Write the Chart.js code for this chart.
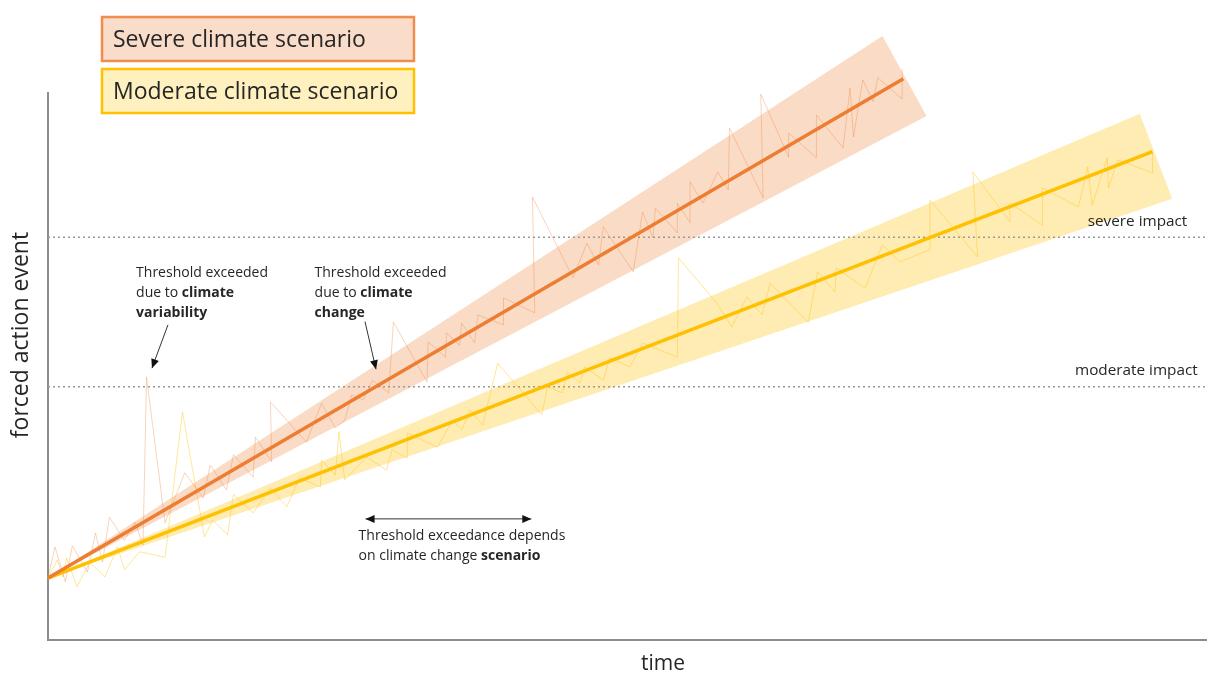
<!DOCTYPE html>
<html>
<head>
<meta charset="utf-8">
<title>Forced action event over time</title>
<script src="https://cdn.jsdelivr.net/npm/chart.js@4.4.1/dist/chart.umd.min.js"></script>
<style>
    html, body { margin: 0; padding: 0; background: #fff; }
    #wrap { width: 1207px; height: 675px; position: relative; }
</style>
</head>
<body>
<div id="wrap"><canvas id="chart"></canvas></div>
<script>
// ================= DATA =================
// time runs 0..100, forced action event 0..100 (arbitrary units)
const severeTrendX = [0, 73.8];
const severeTrendY = [11.3, 102.4];
const moderateTrendX = [0, 95.3];
const moderateTrendY = [11.3, 89.1];

// uncertainty cones (closed outlines)
const severeBandX = [0, 72.0, 75.8, 0];
const severeBandY = [11.3, 110.2, 95.6, 11.3];
const moderateBandX = [0, 94.2, 97.0, 0];
const moderateBandY = [11.3, 96.0, 80.5, 11.3];

// year to year variability
const severeNoiseX = [0, 0.6, 1.5, 2.1, 3.4, 4.1, 4.7, 5.3, 6.6, 7.5, 8.2, 8.5, 10.1, 11.8, 13.4, 14.0, 15.4, 16.0, 17.7, 17.9,
    19.3, 19.2, 22.3, 23.6, 24.8, 25.6, 26.2, 27.2, 28.0, 29.4, 29.8, 32.7, 32.8, 34.3, 34.4, 35.5, 35.7, 36.8, 37.1, 39.3,
    39.3, 42.0, 41.8, 45.3, 46.5, 47.5, 47.9, 50.5, 51.3, 52.2, 52.4, 54.3, 54.3, 55.4, 55.4, 56.5, 57.8, 58.7, 58.8, 61.7,
    61.5, 63.9, 63.9, 66.3, 66.3, 68.6, 69.2, 69.5, 70.3, 71.2, 71.6, 73.7, 73.7];
const severeNoiseY = [11.3, 17.0, 10.6, 17.2, 12.4, 19.5, 14.2, 22.4, 18.2, 21.5, 17.3, 48.0, 21.4, 30.5, 25.9, 31.9, 27.4, 33.8, 29.7, 37.0,
    32.5, 43.4, 36.1, 43.2, 38.7, 40.1, 44.7, 43.8, 47.4, 45.1, 58.0, 47.1, 54.4, 51.6, 56.0, 53.8, 57.8, 54.2, 59.3, 57.5,
    62.4, 59.7, 80.8, 66.1, 72.4, 68.4, 75.4, 67.2, 78.1, 73.4, 78.8, 74.3, 79.7, 76.1, 83.6, 79.7, 85.4, 82.1, 93.4, 80.7,
    99.6, 88.1, 92.5, 88.0, 95.8, 89.8, 100.7, 91.8, 102.2, 98.2, 102.6, 98.7, 104.2];
const moderateNoiseX = [0, 0.8, 1.3, 1.6, 2.5, 3.6, 4.9, 6.0, 6.6, 7.9, 10.1, 11.6, 13.5, 14.2, 15.5, 16.0, 17.7, 19.2, 20.6, 21.7,
    23.5, 23.6, 24.8, 25.1, 25.6, 27.5, 29.2, 29.7, 31.0, 31.0, 33.6, 34.9, 35.7, 36.4, 37.5, 38.8, 42.6, 43.1, 44.4, 44.8,
    45.9, 46.3, 47.9, 48.5, 50.2, 51.3, 54.3, 54.4, 57.7, 59.0, 60.3, 61.6, 62.3, 65.6, 66.4, 67.9, 68.0, 70.5, 72.0, 73.5,
    76.1, 76.1, 80.2, 79.8, 83.0, 83.0, 85.8, 85.8, 88.9, 89.7, 90.1, 91.4, 91.5, 92.3, 95.3, 95.3];
const moderateNoiseY = [11.3, 14.6, 11.5, 15.0, 9.7, 14.2, 11.5, 17.0, 12.8, 16.1, 15.1, 41.6, 18.8, 21.9, 19.2, 26.6, 23.2, 27.7, 24.3, 29.6,
    27.9, 32.8, 30.1, 38.0, 29.2, 33.4, 31.0, 34.7, 33.2, 37.8, 35.2, 40.1, 38.3, 42.0, 39.2, 50.5, 41.1, 46.2, 45.1, 48.9,
    46.9, 49.8, 47.4, 51.5, 49.8, 54.2, 51.6, 69.7, 61.5, 57.1, 62.6, 59.3, 65.1, 58.0, 67.2, 63.5, 67.9, 64.2, 72.1, 69.0,
    71.2, 80.3, 69.9, 85.4, 76.3, 79.7, 75.7, 82.5, 79.0, 86.3, 79.4, 88.0, 82.5, 87.6, 85.2, 88.9];

// impact thresholds
const thresholdNames = ["severe impact", "moderate impact"];
const thresholdValues = [73.5, 46.2];
const thresholdLabelX = [98.3, 99.2];

const legendLabels = ["Severe climate scenario", "Moderate climate scenario"];

// ================= HELPERS =================
function pts(xs, ys) {
    return xs.map((x, i) => ({ x: x, y: ys[i] }));
}

const ORANGE = "#ED7D31";
const YELLOW = "#FFC000";
const AXIS = "#8c8c8c";
const FONT = "'Open Sans', 'Noto Sans', sans-serif";
const TEXT = "#262626";

// notes: anchor in data units, each line is a list of [text, bold]
const notes = [
    { x: 7.6, y: 67.0, lines: [[["Threshold exceeded", false]], [["due to ", false], ["climate", true]], [["variability", true]]] },
    { x: 23.0, y: 67.0, lines: [[["Threshold exceeded", false]], [["due to ", false], ["climate", true]], [["change", true]]] },
    { x: 26.8, y: 18.9, lines: [[["Threshold exceedance depends", false]], [["on climate change ", false], ["scenario", true]]] }
];
const arrows = [
    { from: [10.35, 57.5], to: [8.97, 49.6], both: false },
    { from: [27.35, 58.1], to: [28.30, 49.4], both: false },
    { from: [27.4, 22.1], to: [41.7, 22.1], both: true }
];

function arrowHead(ctx, x0, y0, x1, y1) {
    const a = Math.atan2(y1 - y0, x1 - x0);
    const len = 9, half = 4;
    ctx.beginPath();
    ctx.moveTo(x1, y1);
    ctx.lineTo(x1 - len * Math.cos(a) + half * Math.sin(a), y1 - len * Math.sin(a) - half * Math.cos(a));
    ctx.lineTo(x1 - len * Math.cos(a) - half * Math.sin(a), y1 - len * Math.sin(a) + half * Math.cos(a));
    ctx.closePath();
    ctx.fill();
}

// ================= OVERLAY PLUGIN =================
const overlay = {
    id: "overlay",
    beforeDatasetsDraw(chart) {
        // y axis line only runs up to the top of the value range
        const ctx = chart.ctx;
        const ys = chart.scales.y;
        const x = chart.chartArea.left;
        ctx.save();
        ctx.strokeStyle = AXIS;
        ctx.lineWidth = 2;
        ctx.beginPath();
        ctx.moveTo(x, ys.getPixelForValue(0));
        ctx.lineTo(x, ys.getPixelForValue(100));
        ctx.stroke();
        ctx.restore();
    },
    afterDraw(chart) {
        const ctx = chart.ctx;
        const xs = chart.scales.x, ys = chart.scales.y;
        ctx.save();

        // threshold labels
        ctx.fillStyle = TEXT;
        ctx.font = "15.3px " + FONT;
        ctx.textAlign = "right";
        ctx.textBaseline = "middle";
        thresholdNames.forEach((name, i) => {
            ctx.fillText(name, xs.getPixelForValue(thresholdLabelX[i]), ys.getPixelForValue(thresholdValues[i]) - 16);
        });

        // notes
        ctx.textAlign = "left";
        notes.forEach(n => {
            let px = xs.getPixelForValue(n.x);
            let py = ys.getPixelForValue(n.y);
            n.lines.forEach((line, li) => {
                let cx = px;
                line.forEach(seg => {
                    ctx.font = (seg[1] ? "bold " : "") + "14px " + FONT;
                    ctx.fillText(seg[0], cx, py + li * 20);
                    cx += ctx.measureText(seg[0]).width;
                });
            });
        });

        // arrows
        ctx.strokeStyle = "#333";
        ctx.fillStyle = "#111";
        ctx.lineWidth = 1;
        arrows.forEach(a => {
            const x0 = xs.getPixelForValue(a.from[0]), y0 = ys.getPixelForValue(a.from[1]);
            const x1 = xs.getPixelForValue(a.to[0]), y1 = ys.getPixelForValue(a.to[1]);
            ctx.beginPath();
            ctx.moveTo(x0, y0);
            ctx.lineTo(x1, y1);
            ctx.stroke();
            arrowHead(ctx, x0, y0, x1, y1);
            if (a.both) arrowHead(ctx, x1, y1, x0, y0);
        });

        // legend boxes
        const boxFill = ["#F9DCC9", "#FFF1BF"];
        const boxLine = [ORANGE, YELLOW];
        legendLabels.forEach((label, i) => {
            const top = 17 + i * 52;
            ctx.fillStyle = boxFill[i];
            ctx.fillRect(102, top, 312, 44);
            ctx.strokeStyle = boxLine[i];
            ctx.globalAlpha = i === 0 ? 0.85 : 1;
            ctx.lineWidth = 2.5;
            ctx.strokeRect(102, top, 312, 44);
            ctx.globalAlpha = 1;
            ctx.fillStyle = TEXT;
            ctx.font = "23px " + FONT;
            ctx.textBaseline = "middle";
            ctx.fillText(label, 113, top + 23);
        });

        // x axis title
        ctx.font = "21px " + FONT;
        ctx.textAlign = "center";
        ctx.fillStyle = TEXT;
        ctx.fillText("time", 663, 664);

        ctx.restore();
    }
};

// ================= CHART =================
const lineDefaults = { pointRadius: 0, tension: 0, clip: false };

new Chart(document.getElementById("chart"), {
    type: "line",
    data: {
        datasets: [
            { ...lineDefaults, data: pts(severeTrendX, severeTrendY), borderColor: ORANGE, borderWidth: 3.5, order: 0 },
            { ...lineDefaults, data: pts(moderateTrendX, moderateTrendY), borderColor: YELLOW, borderWidth: 3.5, order: 0 },
            { ...lineDefaults, data: pts(severeNoiseX, severeNoiseY), borderColor: "rgba(237,125,49,0.33)", borderWidth: 1, order: 1 },
            { ...lineDefaults, data: pts(moderateNoiseX, moderateNoiseY), borderColor: "rgba(255,192,0,0.4)", borderWidth: 1, order: 1 },
            { ...lineDefaults, data: pts([0, 100], [thresholdValues[0], thresholdValues[0]]), borderColor: "#9a9a9a", borderWidth: 1.5, borderDash: [2, 3], order: 2 },
            { ...lineDefaults, data: pts([0, 100], [thresholdValues[1], thresholdValues[1]]), borderColor: "#9a9a9a", borderWidth: 1.5, borderDash: [2, 3], order: 2 },
            { ...lineDefaults, data: pts(severeBandX, severeBandY), borderWidth: 0, borderColor: "rgba(0,0,0,0)", fill: "shape", backgroundColor: "rgba(237,125,49,0.28)", order: 3 },
            { ...lineDefaults, data: pts(moderateBandX, moderateBandY), borderWidth: 0, borderColor: "rgba(0,0,0,0)", fill: "shape", backgroundColor: "rgba(255,192,0,0.3)", order: 3 }
        ]
    },
    options: {
        responsive: true,
        maintainAspectRatio: false,
        animation: false,
        events: [],
        layout: { padding: { left: 8, top: 30, right: 0, bottom: 35 } },
        plugins: {
            legend: { display: false },
            tooltip: { enabled: false }
        },
        scales: {
            x: {
                type: "linear",
                min: 0,
                max: 100,
                ticks: { display: false },
                grid: { display: false, drawTicks: false },
                border: { display: true, color: AXIS, width: 2 }
            },
            y: {
                min: 0,
                max: 111.3,
                ticks: { display: false },
                grid: { display: false, drawTicks: false },
                border: { display: false },
                title: {
                    display: true,
                    text: "forced action event",
                    color: TEXT,
                    font: { family: FONT, size: 23 },
                    padding: { top: 0, bottom: 12.4 }
                }
            }
        }
    },
    plugins: [overlay]
});
</script>
</body>
</html>
